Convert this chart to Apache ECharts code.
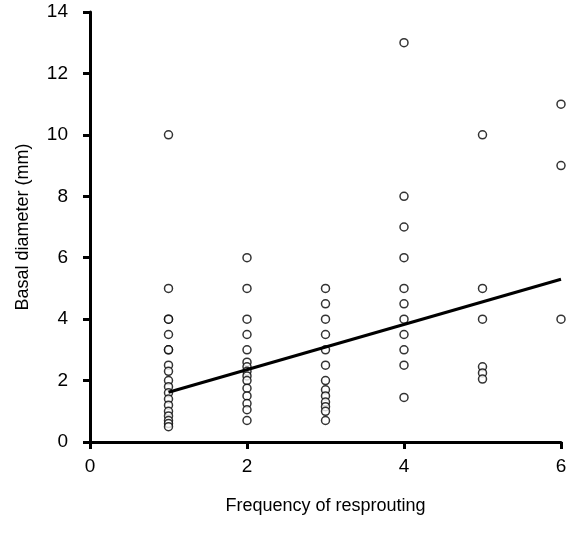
<!DOCTYPE html>
<html>
<head>
<meta charset="utf-8">
<script src="https://cdn.jsdelivr.net/npm/echarts@6/dist/echarts.min.js"></script>
<style>
html,body{margin:0;padding:0;background:#fff;}
#chart{width:570px;height:537px;}
</style>
</head>
<body>
<div id="chart"></div>
<script>
var xTicks = [0, 2, 4, 6];
var yTicks = [0, 2, 4, 6, 8, 10, 12, 14];
var freq1 = [10, 5, 4, 4, 3.5, 3, 3, 2.5, 2.3, 2.0, 1.8, 1.6, 1.4, 1.2, 1.0, 0.85, 0.7, 0.6, 0.5];
var freq2 = [6, 5, 4, 3.5, 3, 2.6, 2.45, 2.3, 2.15, 2.0, 1.75, 1.5, 1.25, 1.05, 0.7];
var freq3 = [5, 4.5, 4, 3.5, 3, 2.5, 2, 1.7, 1.5, 1.3, 1.15, 1.0, 0.7];
var freq4 = [13, 8, 7, 6, 5, 4.5, 4, 3.5, 3, 2.5, 1.45];
var freq5 = [10, 5, 4, 2.45, 2.25, 2.05];
var freq6 = [11, 9, 4];
var fitX = [1, 6];
var fitY = [1.62, 5.3];

var groups = [[1, freq1], [2, freq2], [3, freq3], [4, freq4], [5, freq5], [6, freq6]];
var points = [];
groups.forEach(function (g) { g[1].forEach(function (v) { points.push([g[0], v]); }); });
var fit = fitX.map(function (x, i) { return [x, fitY[i]]; });

var font = '"Liberation Sans", Arial, sans-serif';
var chart = echarts.init(document.getElementById('chart'));
chart.setOption({
  animation: false,
  backgroundColor: '#fff',
  grid: { left: 90, right: 9, top: 12, bottom: 95 },
  xAxis: {
    type: 'value', min: xTicks[0], max: xTicks[xTicks.length - 1], interval: 2,
    name: 'Frequency of resprouting', nameLocation: 'middle', nameGap: 55,
    nameTextStyle: { fontFamily: font, fontSize: 18, color: '#000' },
    axisLine: { lineStyle: { color: '#000', width: 3 } },
    axisTick: { length: 7, lineStyle: { color: '#000', width: 3 } },
    axisLabel: { fontFamily: font, fontSize: 19, color: '#000', margin: 15 },
    splitLine: { show: false }
  },
  yAxis: {
    type: 'value', min: yTicks[0], max: yTicks[yTicks.length - 1], interval: 2,
    name: 'Basal diameter (mm)', nameLocation: 'middle', nameGap: 58,
    nameTextStyle: { fontFamily: font, fontSize: 18, color: '#000' },
    axisLine: { show: true, lineStyle: { color: '#000', width: 3 } },
    axisTick: { show: true, length: 7, lineStyle: { color: '#000', width: 3 } },
    axisLabel: { fontFamily: font, fontSize: 19, color: '#000', margin: 22 },
    splitLine: { show: false }
  },
  series: [
    {
      type: 'scatter', data: points, symbol: 'circle', symbolSize: 8,
      itemStyle: { color: '#fff', borderColor: '#000', borderWidth: 1.5 }, z: 3
    },
    {
      type: 'line', data: fit, symbol: 'none',
      lineStyle: { color: '#000', width: 3 }, z: 4
    }
  ]
});
</script>
</body>
</html>
